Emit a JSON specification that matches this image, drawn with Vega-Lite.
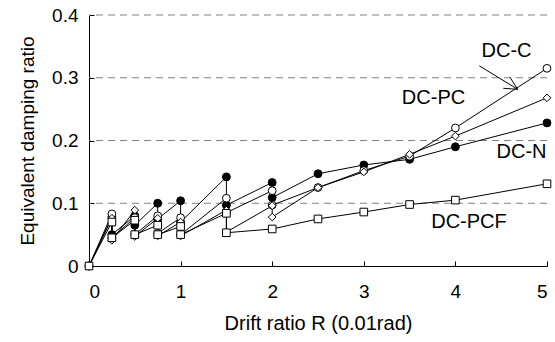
{
  "$schema": "https://vega.github.io/schema/vega-lite/v6.json",
  "width": 458,
  "height": 251,
  "autosize": "none",
  "padding": {"left": 89, "top": 15, "right": 8, "bottom": 76},
  "background": "white",
  "config": {
    "view": {"stroke": null},
    "font": "Liberation Sans",
    "axis": {"labelFont": "Liberation Sans", "titleFont": "Liberation Sans", "labelFontSize": 19, "titleFontSize": 19, "titleFontWeight": "normal", "labelColor": "black", "titleColor": "black", "domainColor": "black", "tickColor": "black"}
  },
  "datasets": {
    "series": [
      {"s": "DC-N", "i": 0, "x": 0, "y": 0},
      {"s": "DC-N", "i": 1, "x": 0.25, "y": 0.078},
      {"s": "DC-N", "i": 2, "x": 0.25, "y": 0.05},
      {"s": "DC-N", "i": 3, "x": 0.5, "y": 0.08},
      {"s": "DC-N", "i": 4, "x": 0.5, "y": 0.065},
      {"s": "DC-N", "i": 5, "x": 0.75, "y": 0.1},
      {"s": "DC-N", "i": 6, "x": 0.75, "y": 0.075},
      {"s": "DC-N", "i": 7, "x": 1, "y": 0.104},
      {"s": "DC-N", "i": 8, "x": 1, "y": 0.07},
      {"s": "DC-N", "i": 9, "x": 1.5, "y": 0.142},
      {"s": "DC-N", "i": 10, "x": 1.5, "y": 0.097},
      {"s": "DC-N", "i": 11, "x": 2, "y": 0.133},
      {"s": "DC-N", "i": 12, "x": 2, "y": 0.109},
      {"s": "DC-N", "i": 13, "x": 2.5, "y": 0.147},
      {"s": "DC-N", "i": 14, "x": 3, "y": 0.161},
      {"s": "DC-N", "i": 15, "x": 3.5, "y": 0.17},
      {"s": "DC-N", "i": 16, "x": 4, "y": 0.19},
      {"s": "DC-N", "i": 17, "x": 5, "y": 0.228},
      {"s": "DC-C", "i": 0, "x": 0, "y": 0},
      {"s": "DC-C", "i": 1, "x": 0.25, "y": 0.083},
      {"s": "DC-C", "i": 2, "x": 0.25, "y": 0.045},
      {"s": "DC-C", "i": 3, "x": 0.5, "y": 0.077},
      {"s": "DC-C", "i": 4, "x": 0.5, "y": 0.05},
      {"s": "DC-C", "i": 5, "x": 0.75, "y": 0.08},
      {"s": "DC-C", "i": 6, "x": 0.75, "y": 0.052},
      {"s": "DC-C", "i": 7, "x": 1, "y": 0.077},
      {"s": "DC-C", "i": 8, "x": 1, "y": 0.05},
      {"s": "DC-C", "i": 9, "x": 1.5, "y": 0.108},
      {"s": "DC-C", "i": 10, "x": 1.5, "y": 0.085},
      {"s": "DC-C", "i": 11, "x": 2, "y": 0.12},
      {"s": "DC-C", "i": 12, "x": 2, "y": 0.097},
      {"s": "DC-C", "i": 13, "x": 2.5, "y": 0.125},
      {"s": "DC-C", "i": 14, "x": 3, "y": 0.152},
      {"s": "DC-C", "i": 15, "x": 3.5, "y": 0.175},
      {"s": "DC-C", "i": 16, "x": 4, "y": 0.22},
      {"s": "DC-C", "i": 17, "x": 5, "y": 0.315},
      {"s": "DC-PC", "i": 0, "x": 0, "y": 0},
      {"s": "DC-PC", "i": 1, "x": 0.25, "y": 0.076},
      {"s": "DC-PC", "i": 2, "x": 0.25, "y": 0.041},
      {"s": "DC-PC", "i": 3, "x": 0.5, "y": 0.089},
      {"s": "DC-PC", "i": 4, "x": 0.5, "y": 0.047},
      {"s": "DC-PC", "i": 5, "x": 0.75, "y": 0.076},
      {"s": "DC-PC", "i": 6, "x": 0.75, "y": 0.048},
      {"s": "DC-PC", "i": 7, "x": 1, "y": 0.07},
      {"s": "DC-PC", "i": 8, "x": 1, "y": 0.048},
      {"s": "DC-PC", "i": 9, "x": 1.5, "y": 0.089},
      {"s": "DC-PC", "i": 10, "x": 1.5, "y": 0.054},
      {"s": "DC-PC", "i": 11, "x": 2, "y": 0.096},
      {"s": "DC-PC", "i": 12, "x": 2, "y": 0.078},
      {"s": "DC-PC", "i": 13, "x": 2.5, "y": 0.125},
      {"s": "DC-PC", "i": 14, "x": 3, "y": 0.15},
      {"s": "DC-PC", "i": 15, "x": 3.5, "y": 0.178},
      {"s": "DC-PC", "i": 16, "x": 4, "y": 0.207},
      {"s": "DC-PC", "i": 17, "x": 5, "y": 0.268},
      {"s": "DC-PCF", "i": 0, "x": 0, "y": 0},
      {"s": "DC-PCF", "i": 1, "x": 0.25, "y": 0.07},
      {"s": "DC-PCF", "i": 2, "x": 0.25, "y": 0.045},
      {"s": "DC-PCF", "i": 3, "x": 0.5, "y": 0.073},
      {"s": "DC-PCF", "i": 4, "x": 0.5, "y": 0.05},
      {"s": "DC-PCF", "i": 5, "x": 0.75, "y": 0.065},
      {"s": "DC-PCF", "i": 6, "x": 0.75, "y": 0.05},
      {"s": "DC-PCF", "i": 7, "x": 1, "y": 0.063},
      {"s": "DC-PCF", "i": 8, "x": 1, "y": 0.05},
      {"s": "DC-PCF", "i": 9, "x": 1.5, "y": 0.084},
      {"s": "DC-PCF", "i": 10, "x": 1.5, "y": 0.053},
      {"s": "DC-PCF", "i": 11, "x": 2, "y": 0.059},
      {"s": "DC-PCF", "i": 12, "x": 2.5, "y": 0.075},
      {"s": "DC-PCF", "i": 13, "x": 3, "y": 0.086},
      {"s": "DC-PCF", "i": 14, "x": 3.5, "y": 0.098},
      {"s": "DC-PCF", "i": 15, "x": 4, "y": 0.105},
      {"s": "DC-PCF", "i": 16, "x": 5, "y": 0.131}
    ],
    "labels": [
      {"t": "DC-C", "x": 4.558, "y": 0.343},
      {"t": "DC-PC", "x": 3.761, "y": 0.268},
      {"t": "DC-N", "x": 4.722, "y": 0.182},
      {"t": "DC-PCF", "x": 4.148, "y": 0.07}
    ],
    "arrow": [
      {"g": "shaft", "k": 0, "x": 4.261, "y": 0.319},
      {"g": "shaft", "k": 1, "x": 4.68, "y": 0.2816},
      {"g": "head", "k": 0, "x": 4.596, "y": 0.3007},
      {"g": "head", "k": 1, "x": 4.68, "y": 0.2816},
      {"g": "head", "k": 2, "x": 4.523, "y": 0.2832}
    ]
  },
  "layer": [
    {
      "data": {"values": [{"v": 0.1}, {"v": 0.2}, {"v": 0.3}, {"v": 0.4}]},
      "mark": {"type": "rule", "color": "#808080", "strokeDash": [7, 5], "strokeWidth": 1},
      "encoding": {
        "y": {"field": "v", "type": "quantitative", "scale": {"domain": [0, 0.4]}}
      }
    },
    {
      "data": {"name": "series"},
      "mark": {"type": "line", "color": "black"},
      "encoding": {
        "x": {"field": "x", "type": "quantitative", "scale": {"domain": [0, 5]},
              "axis": {"title": "Drift ratio R (0.01rad)", "titleFontSize": 20, "values": [0, 1, 2, 3, 4, 5], "grid": false, "tickSize": -5, "labelPadding": 21, "titlePadding": 12, "format": "d"}},
        "y": {"field": "y", "type": "quantitative", "scale": {"domain": [0, 0.4]},
              "axis": {"title": "Equivalent damping ratio", "values": [0, 0.1, 0.2, 0.3, 0.4], "grid": false, "tickSize": -5, "labelPadding": 16, "titlePadding": 14, "labelExpr": "datum.value == 0 ? '0' : format(datum.value, '.1f')"}},
        "detail": {"field": "s"},
        "order": {"field": "i", "type": "quantitative"},
        "strokeWidth": {"field": "s", "type": "nominal", "scale": {"domain": ["DC-N", "DC-C", "DC-PC", "DC-PCF"], "range": [1, 1, 1, 2.6]}, "legend": null}
      }
    },
    {
      "data": {"name": "series"},
      "mark": {"type": "point", "stroke": "black", "strokeWidth": 1, "opacity": 1},
      "encoding": {
        "x": {"field": "x", "type": "quantitative"},
        "y": {"field": "y", "type": "quantitative"},
        "shape": {"field": "s", "type": "nominal", "scale": {"domain": ["DC-N", "DC-C", "DC-PC", "DC-PCF"], "range": ["circle", "circle", "diamond", "square"]}, "legend": null},
        "fill": {"field": "s", "type": "nominal", "scale": {"domain": ["DC-N", "DC-C", "DC-PC", "DC-PCF"], "range": ["black", "white", "white", "white"]}, "legend": null},
        "size": {"field": "s", "type": "nominal", "scale": {"domain": ["DC-N", "DC-C", "DC-PC", "DC-PCF"], "range": [62, 58, 85, 58]}, "legend": null}
      }
    },
    {
      "data": {"name": "arrow"},
      "mark": {"type": "line", "color": "black", "strokeWidth": 1},
      "encoding": {
        "x": {"field": "x", "type": "quantitative"},
        "y": {"field": "y", "type": "quantitative"},
        "detail": {"field": "g"},
        "order": {"field": "k", "type": "quantitative"}
      }
    },
    {
      "data": {"name": "labels"},
      "mark": {"type": "text", "font": "Liberation Sans", "fontSize": 20, "color": "black", "align": "center", "baseline": "middle"},
      "encoding": {
        "x": {"field": "x", "type": "quantitative"},
        "y": {"field": "y", "type": "quantitative"},
        "text": {"field": "t"}
      }
    }
  ]
}
